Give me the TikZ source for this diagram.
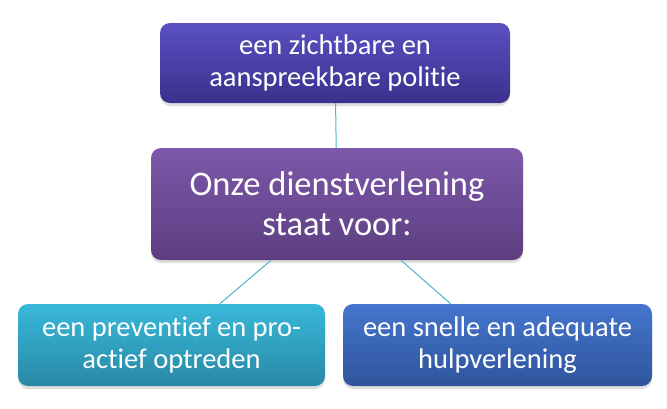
\documentclass[tikz,border=0pt]{standalone}
\usepackage{fontspec}
\setmainfont{Carlito}[Ligatures=CommonOff]
\usetikzlibrary{shadows}

\definecolor{topA}{HTML}{5A50C2}
\definecolor{topB}{HTML}{3B308C}
\definecolor{hubA}{HTML}{7D58AA}
\definecolor{hubB}{HTML}{5C3E80}
\definecolor{leftA}{HTML}{39B8DA}
\definecolor{leftB}{HTML}{2889A6}
\definecolor{rightA}{HTML}{4476CE}
\definecolor{rightB}{HTML}{2F549C}
\definecolor{linkc}{HTML}{4AB6C8}

\begin{document}
\begin{tikzpicture}[x=1pt,y=1pt,
	box/.style={rounded corners=10pt, text=white, align=center, inner sep=0pt,
		font=\fontsize{28.5}{32}\selectfont,
		drop shadow={shadow xshift=0pt, shadow yshift=-3pt, opacity=0.25}},
	link/.style={draw=linkc, line width=1pt}]
		\useasboundingbox (0,0) rectangle (667,-408);
		\coordinate (T) at (335,-63);
		\coordinate (H) at (337,-204);
		\coordinate (L) at (171.5,-345);
		\coordinate (R) at (497.5,-345);
		\node[box, minimum width=350pt, minimum height=80pt, top color=topA, bottom color=topB] (top) at (T) {een zichtbare en\\aanspreekbare politie};
		\node[box, minimum width=372pt, minimum height=112pt, top color=hubA, bottom color=hubB, font=\fontsize{34.5}{40}\selectfont] (hub) at (H) {Onze dienstverlening\\staat voor:};
		\node[box, minimum width=307pt, minimum height=82pt, top color=leftA, bottom color=leftB] (pro) at (L) {een preventief en pro-\\actief optreden};
		\node[box, minimum width=309pt, minimum height=82pt, top color=rightA, bottom color=rightB] (hulp) at (R) {een snelle en adequate\\hulpverlening};
		\draw[link] (top)--(hub);
		\draw[link] (hub)--(pro);
		\draw[link] (hub)--(hulp);
\end{tikzpicture}
\end{document}
